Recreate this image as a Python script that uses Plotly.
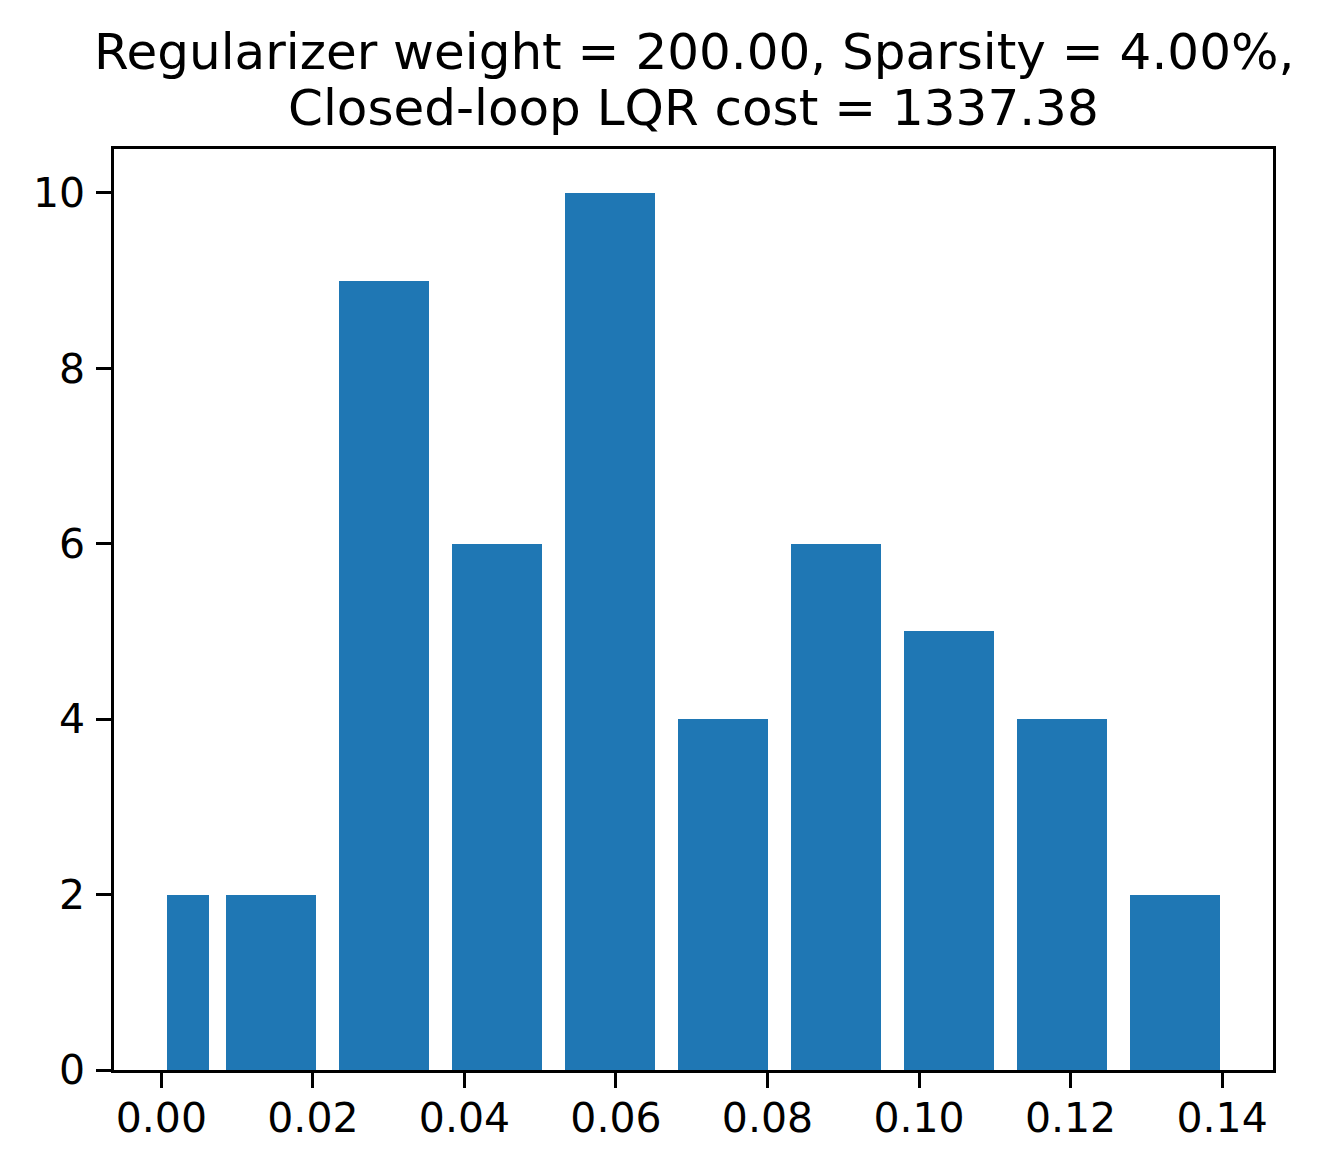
import plotly.graph_objects as go

# Histogram data
bin_edges = [0.0, 0.00698, 0.0219, 0.03682, 0.05174, 0.06666, 0.08158,
             0.0965, 0.11142, 0.12634, 0.14126]
counts = [2, 2, 9, 6, 10, 4, 6, 5, 4, 2]
x_ticks = [0.00, 0.02, 0.04, 0.06, 0.08, 0.10, 0.12, 0.14]
y_ticks = [0, 2, 4, 6, 8, 10]
title_lines = ["Regularizer weight = 200.00, Sparsity = 4.00%,",
               "Closed-loop LQR cost = 1337.38"]

rwidth = 0.8
centers = [(a + b) / 2 for a, b in zip(bin_edges[:-1], bin_edges[1:])]
widths = [(b - a) * rwidth for a, b in zip(bin_edges[:-1], bin_edges[1:])]

W, H = 1324, 1171
ml, mr, mt, mb = 114, 50.5, 149, 100.5
plot_h = H - mt - mb

fig = go.Figure(go.Bar(x=centers, y=counts, width=widths,
                       marker=dict(color="#1f77b4", line=dict(width=0))))

lo = bin_edges[0] + (bin_edges[1] - bin_edges[0]) * (1 - rwidth) / 2
hi = bin_edges[-1] - (bin_edges[-1] - bin_edges[-2]) * (1 - rwidth) / 2
span = hi - lo

axis_common = dict(showline=True, linecolor="black", linewidth=3.3, mirror=True,
                   ticks="outside", ticklen=14.6, tickwidth=3.3, tickcolor="black",
                   showgrid=False, zeroline=False,
                   tickfont=dict(family="DejaVu Sans", size=41, color="black"))

fig.update_xaxes(range=[lo - 0.05 * span, hi + 0.05 * span], tickvals=x_ticks,
                 ticktext=[f"{v:.2f}" for v in x_ticks], ticklabelstandoff=-5,
                 **axis_common)
fig.update_yaxes(range=[0, max(counts) * 1.05], tickvals=y_ticks,
                 ticktext=[str(v) for v in y_ticks], ticklabelstandoff=3,
                 **axis_common)

for txt, ypx in zip(title_lines, [52, 108]):
    fig.add_annotation(text=txt, xref="paper", yref="paper", x=0.5,
                       y=1 + (mt - ypx) / plot_h, xanchor="center", yanchor="middle",
                       showarrow=False,
                       font=dict(family="DejaVu Sans", size=50, color="black"))

fig.update_layout(width=W, height=H, margin=dict(l=ml, r=mr, t=mt, b=mb),
                  plot_bgcolor="white", paper_bgcolor="white", showlegend=False,
                  bargap=0)

fig.write_html("out.html")
